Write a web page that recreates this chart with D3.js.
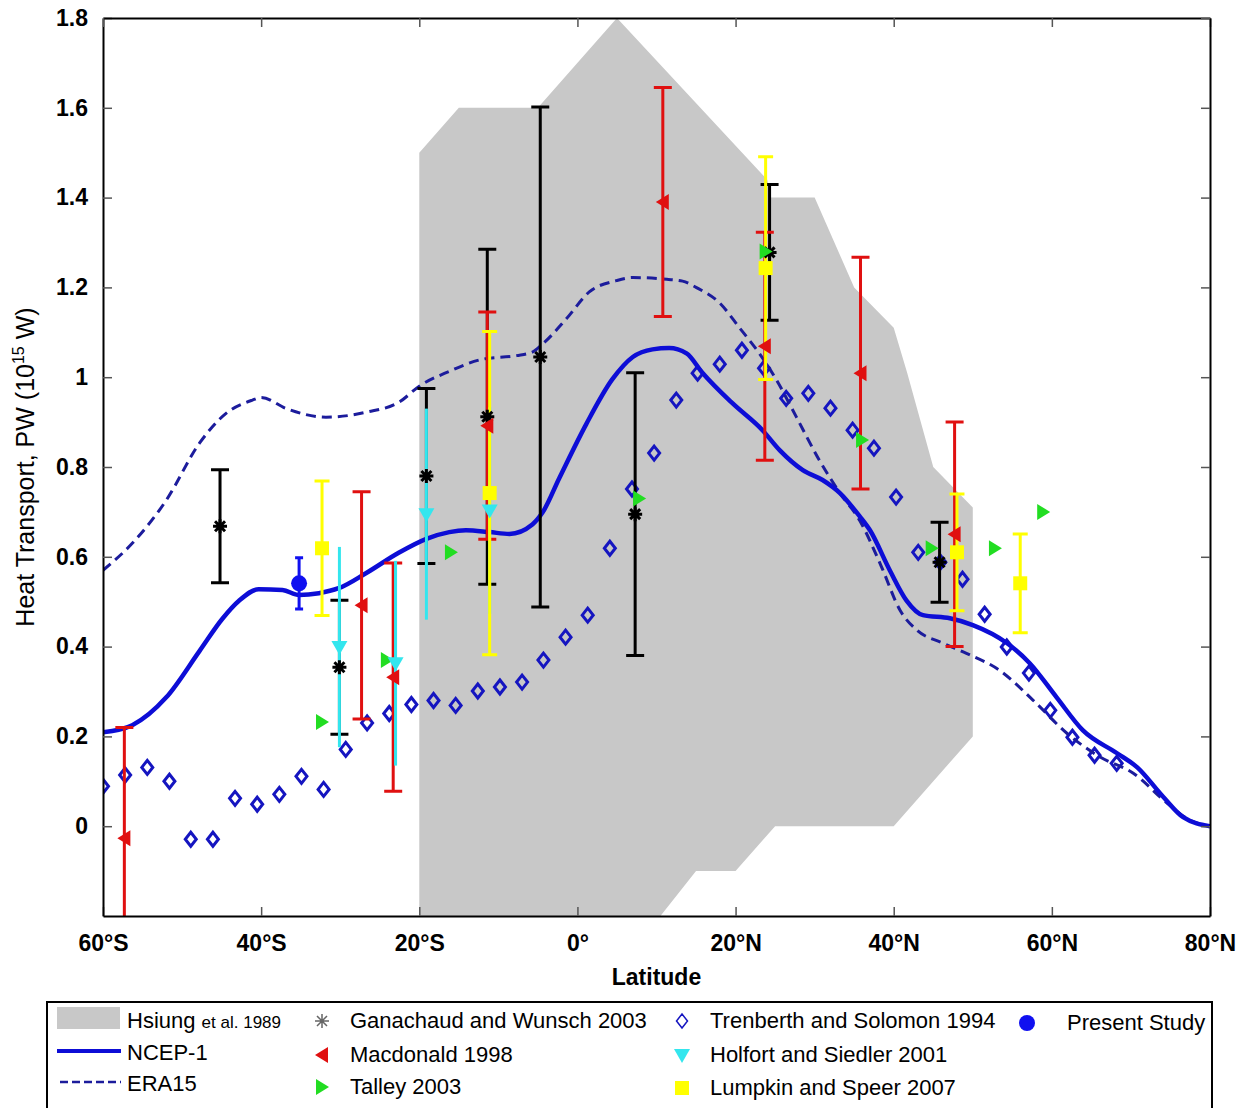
<!DOCTYPE html>
<html>
<head>
<meta charset="utf-8">
<script src="https://cdn.jsdelivr.net/npm/d3@7"></script>
<style>
  body { margin: 0; background: #fff; }
  svg { display: block; font-family: "Liberation Sans", Arial, sans-serif; }
</style>
</head>
<body>
<div class="chart"></div>
<script>
// ---- data ----
var xTicks = [-60, -40, -20, 0, 20, 40, 60, 80];
var xTickLabels = ['60°S', '40°S', '20°S', '0°', '20°N', '40°N', '60°N', '80°N'];
var yTicks = [0, 0.2, 0.4, 0.6, 0.8, 1, 1.2, 1.4, 1.6, 1.8];
var yTickLabels = ['0', '0.2', '0.4', '0.6', '0.8', '1', '1.2', '1.4', '1.6', '1.8'];

// Hsiung et al. 1989 envelope (lat, PW)
var hsiungLat = [-20, -20, -15, -5, 5, 24, 24.5, 30, 35, 40, 41.7, 45, 50, 50, 40, 25, 20, 15, 10.5];
var hsiungPW  = [-0.2, 1.5, 1.6, 1.6, 1.8, 1.44, 1.4, 1.4, 1.2, 1.11, 1.01, 0.8, 0.71, 0.2, 0, 0, -0.1, -0.1, -0.2];

var ncepLat = [-60, -56.3, -52, -47.8, -44.9, -42.8, -40.3, -37.3, -35.2, -32.7, -30.2, -26.7, -22.5, -19.1, -16.2,
  -14.1, -11.1, -8.6, -5.7, -4.4, -2.3, 1.1, 4.4, 7.0, 9.5, 11.6, 13.8, 15.8, 19.6, 23.4, 25.6, 28.5, 31.0, 33.2,
  35.7, 37.0, 39.5, 41.6, 43.7, 47.1, 50, 54.3, 57.2, 60.6, 63.9, 68.2, 70.8, 74.1, 76.6, 80];
var ncepPW = [0.209, 0.225, 0.287, 0.39, 0.462, 0.502, 0.528, 0.526, 0.515, 0.519, 0.530, 0.564, 0.61, 0.64, 0.655,
  0.659, 0.655, 0.651, 0.672, 0.699, 0.775, 0.895, 0.995, 1.045, 1.062, 1.065, 1.053, 1.01, 0.942, 0.882, 0.837, 0.793,
  0.771, 0.742, 0.69, 0.659, 0.57, 0.503, 0.47, 0.463, 0.448, 0.408, 0.363, 0.287, 0.214, 0.163, 0.131, 0.065, 0.02, 0.0];

var eraLat = [-60, -56.3, -52, -47.8, -44.4, -41.1, -40, -36.8, -31.8, -26.7, -22.5, -20, -16.2, -12.0, -7.7, -5.7,
  -4.4, -1.4, 1.5, 4.9, 7.0, 11.3, 13.3, 15.0, 18.0, 20.5, 23.0, 25.2, 27.7, 30.6, 33.2, 35.7, 38.4, 40.8, 42.9, 46.2,
  49.2, 53.4, 57.6, 61.9, 66.1, 70.3, 74.6, 77.5, 80];
var eraPW = [0.57, 0.63, 0.726, 0.853, 0.92, 0.949, 0.955, 0.93, 0.911, 0.922, 0.945, 0.98, 1.013, 1.04, 1.048, 1.056,
  1.074, 1.13, 1.19, 1.215, 1.222, 1.218, 1.214, 1.2, 1.165, 1.11, 1.053, 0.993, 0.911, 0.815, 0.742, 0.681, 0.58,
  0.481, 0.437, 0.408, 0.385, 0.347, 0.281, 0.207, 0.154, 0.118, 0.051, 0.013, 0.0];

// Trenberth and Solomon 1994
var tsLat = [-60, -57.2, -54.4, -51.6, -48.9, -46.1, -43.3, -40.5, -37.7, -34.9, -32.1, -29.3, -26.6, -23.8, -21.0,
  -18.2, -15.4, -12.6, -9.8, -7.0, -4.3, -1.5, 1.3, 4.1, 6.9, 9.7, 12.5, 15.2, 18.0, 20.8, 23.6, 26.4, 29.2, 32.0,
  34.8, 37.5, 40.3, 43.1, 45.9, 48.7, 51.5, 54.3, 57.1, 59.8, 62.6, 65.4, 68.2];
var tsPW = [0.089, 0.114, 0.131, 0.100, -0.029, -0.029, 0.062, 0.049, 0.071, 0.111, 0.082, 0.171, 0.230, 0.251, 0.271,
  0.280, 0.269, 0.301, 0.310, 0.321, 0.370, 0.421, 0.470, 0.619, 0.751, 0.831, 0.949, 1.009, 1.029, 1.060, 1.02, 0.953,
  0.964, 0.931, 0.882, 0.842, 0.733, 0.610, 0.588, 0.550, 0.472, 0.399, 0.341, 0.258, 0.198, 0.158, 0.140];

// Ganachaud and Wunsch 2003
var gwLat = [-45.2, -30.1, -19.1, -11.4, -4.7, 7.3, 24.3, 45.8];
var gwPW  = [0.668, 0.354, 0.78, 0.912, 1.045, 0.695, 1.278, 0.588];
var gwErr = [0.126, 0.149, 0.195, 0.373, 0.557, 0.315, 0.151, 0.089];

// Macdonald 1998
var macLat = [-57.3, -27.3, -23.3, -11.4, 10.8, 23.7, 35.8, 47.7];
var macPW  = [-0.027, 0.492, 0.332, 0.892, 1.39, 1.069, 1.009, 0.65];
var macErr = [0.247, 0.253, 0.254, 0.253, 0.255, 0.254, 0.258, 0.25];

// Talley 2003
var talLat = [-32.3, -24.1, -16.0, 7.8, 23.8, 36.0, 44.8, 52.8, 58.9];
var talPW  = [0.232, 0.37, 0.61, 0.73, 1.28, 0.86, 0.619, 0.619, 0.70];

// Holfort and Siedler 2001
var hsLat = [-30.1, -23.0, -19.1, -11.1];
var hsPW  = [0.399, 0.363, 0.695, 0.703];
var hsErr = [0.223, 0.228, 0.235, 0.23];

// Lumpkin and Speer 2007
var lsLat = [-32.3, -11.1, 23.8, 48.0, 56.0];
var lsPW  = [0.619, 0.742, 1.243, 0.61, 0.541];
var lsErr = [0.15, 0.36, 0.248, 0.13, 0.11];

// Present study
var psLat = [-35.2];
var psPW  = [0.541];
var psErr = [0.057];

var chart = {
  width: 1251,
  height: 1108,
  plot: {left: 103, right: 1210, top: 18, bottom: 916},
  colors: {
    gray: '#c8c8c8', ncep: '#0d0dd6', era: '#1c1c9c', ts: '#1515c0',
    gw: '#000000', mac: '#e01010', tal: '#22dd22', hs: '#33e6ee', ls: '#ffff00', ps: '#1010f0'
  }
};

function zip(lat, pw, err) {
  return lat.map(function(d, i) { return {lat: d, pw: pw[i], err: err ? err[i] : 0}; });
}

var svg = d3.select('.chart').append('svg')
  .attr('width', chart.width)
  .attr('height', chart.height);

var x = d3.scaleLinear().domain([-60, 80]).range([chart.plot.left, chart.plot.right]);
var y = d3.scaleLinear().domain([-0.2, 1.8]).range([chart.plot.bottom, chart.plot.top]);

svg.append('clipPath').attr('id', 'plotClip')
  .append('rect')
  .attr('x', chart.plot.left).attr('y', chart.plot.top)
  .attr('width', chart.plot.right - chart.plot.left)
  .attr('height', chart.plot.bottom - chart.plot.top);

var plot = svg.append('g').attr('clip-path', 'url(#plotClip)');

// shaded envelope
plot.append('path')
  .datum(zip(hsiungLat, hsiungPW))
  .attr('d', d3.line().x(function(d) { return x(d.lat); }).y(function(d) { return y(d.pw); }))
  .attr('fill', chart.colors.gray)
  .attr('stroke', 'none');

// marker shapes
var shapes = {
  triLeft: 'M-7,0L6,-8L6,8Z',
  triRight: 'M7,0L-6,-8L-6,8Z',
  triDown: 'M-8,-6L8,-6L0,8Z',
  square: 'M-7,-7L7,-7L7,7L-7,7Z',
  diamond: 'M0,-7L5.5,0L0,7L-5.5,0Z',
  asterisk: 'M-7,0L7,0M0,-7L0,7M-5,-5L5,5M-5,5L5,-5'
};

// diamonds (Trenberth & Solomon)
plot.append('g').selectAll('path')
  .data(zip(tsLat, tsPW))
  .join('path')
  .attr('transform', function(d) { return 'translate(' + x(d.lat) + ',' + y(d.pw) + ')'; })
  .attr('d', shapes.diamond)
  .attr('fill', 'none')
  .attr('stroke', chart.colors.ts)
  .attr('stroke-width', 3);

var line = d3.line()
  .x(function(d) { return x(d.lat); })
  .y(function(d) { return y(d.pw); })
  .curve(d3.curveMonotoneX);

plot.append('path')
  .datum(zip(eraLat, eraPW))
  .attr('d', line)
  .attr('fill', 'none')
  .attr('stroke', chart.colors.era)
  .attr('stroke-width', 3)
  .attr('stroke-dasharray', '10,6');

plot.append('path')
  .datum(zip(ncepLat, ncepPW))
  .attr('d', line)
  .attr('fill', 'none')
  .attr('stroke', chart.colors.ncep)
  .attr('stroke-width', 4.5);

function errorBars(data, color, capW) {
  var g = plot.append('g').attr('stroke', color).attr('stroke-width', 3).attr('fill', 'none');
  g.selectAll('path')
    .data(data)
    .join('path')
    .attr('d', function(d) {
      var cx = x(d.lat), top = y(d.pw + d.err), bot = y(d.pw - d.err);
      var s = 'M' + cx + ',' + top + 'L' + cx + ',' + bot;
      if (capW) {
        s += 'M' + (cx - capW / 2) + ',' + top + 'L' + (cx + capW / 2) + ',' + top;
        s += 'M' + (cx - capW / 2) + ',' + bot + 'L' + (cx + capW / 2) + ',' + bot;
      }
      return s;
    });
}

function markers(data, shape, color, stroked) {
  plot.append('g').selectAll('path')
    .data(data)
    .join('path')
    .attr('transform', function(d) { return 'translate(' + x(d.lat) + ',' + y(d.pw) + ')'; })
    .attr('d', shape)
    .attr('fill', stroked ? 'none' : color)
    .attr('stroke', stroked ? color : 'none')
    .attr('stroke-width', stroked ? 3 : 0);
}

var gw = zip(gwLat, gwPW, gwErr);
var mac = zip(macLat, macPW, macErr);
var hs = zip(hsLat, hsPW, hsErr);
var ls = zip(lsLat, lsPW, lsErr);
var ps = zip(psLat, psPW, psErr);

errorBars(gw, chart.colors.gw, 18);
errorBars(mac, chart.colors.mac, 18);
errorBars(hs, chart.colors.hs, 0);
errorBars(ls, chart.colors.ls, 15);
errorBars(ps, chart.colors.ps, 8);

markers(gw, shapes.asterisk, chart.colors.gw, true);
markers(mac, shapes.triLeft, chart.colors.mac);
markers(zip(talLat, talPW), shapes.triRight, chart.colors.tal);
markers(ls, shapes.square, chart.colors.ls);
markers(hs, shapes.triDown, chart.colors.hs);
plot.append('g').selectAll('circle')
  .data(ps)
  .join('circle')
  .attr('cx', function(d) { return x(d.lat); })
  .attr('cy', function(d) { return y(d.pw); })
  .attr('r', 8)
  .attr('fill', chart.colors.ps);

// axes with inward ticks on all four sides
svg.append('g')
  .attr('transform', 'translate(0,' + chart.plot.bottom + ')')
  .call(d3.axisBottom(x).tickValues(xTicks).tickSizeInner(-9).tickSizeOuter(0).tickPadding(19)
    .tickFormat(function(d, i) { return xTickLabels[i]; }));
svg.append('g')
  .attr('transform', 'translate(' + chart.plot.left + ',0)')
  .call(d3.axisLeft(y).tickValues(yTicks).tickSizeInner(-9).tickSizeOuter(0).tickPadding(15)
    .tickFormat(function(d, i) { return yTickLabels[i]; }));
svg.append('g')
  .attr('transform', 'translate(0,' + chart.plot.top + ')')
  .call(d3.axisTop(x).tickValues(xTicks).tickSizeInner(-9).tickSizeOuter(0).tickFormat(''));
svg.append('g')
  .attr('transform', 'translate(' + chart.plot.right + ',0)')
  .call(d3.axisRight(y).tickValues(yTicks).tickSizeInner(-9).tickSizeOuter(0).tickFormat(''));

svg.selectAll('.domain').attr('stroke', '#000').attr('stroke-width', 2);
svg.selectAll('.tick line').attr('stroke', '#555').attr('stroke-width', 1.5);
svg.selectAll('.tick text')
  .attr('fill', '#000')
  .style('font-family', '"Liberation Sans", Arial, sans-serif')
  .style('font-size', '23px')
  .style('font-weight', 'bold');

svg.append('text')
  .attr('x', (chart.plot.left + chart.plot.right) / 2)
  .attr('y', 985)
  .attr('text-anchor', 'middle')
  .style('font-size', '23px')
  .style('font-weight', 'bold')
  .text('Latitude');

var yLabel = svg.append('text')
  .attr('transform', 'translate(34,' + ((chart.plot.top + chart.plot.bottom) / 2) + ') rotate(-90)')
  .attr('text-anchor', 'middle')
  .style('font-size', '25px');
yLabel.append('tspan').text('Heat Transport, PW (10');
yLabel.append('tspan').attr('dy', -10).style('font-size', '16px').text('15');
yLabel.append('tspan').attr('dy', 10).text(' W)');

// legend
var legend = svg.append('g').style('font-size', '22px');
legend.append('rect')
  .attr('x', 47).attr('y', 1002).attr('width', 1165).attr('height', 120)
  .attr('fill', '#fff').attr('stroke', '#000').attr('stroke-width', 2);

legend.append('rect').attr('x', 57).attr('y', 1007).attr('width', 63).attr('height', 22).attr('fill', chart.colors.gray);
var hsiungText = legend.append('text').attr('x', 127).attr('y', 1028);
hsiungText.append('tspan').text('Hsiung ');
hsiungText.append('tspan').style('font-size', '17px').text('et al. 1989');

legend.append('line').attr('x1', 57).attr('x2', 121).attr('y1', 1051).attr('y2', 1051)
  .attr('stroke', chart.colors.ncep).attr('stroke-width', 4);
legend.append('text').attr('x', 127).attr('y', 1060).text('NCEP-1');

legend.append('line').attr('x1', 60).attr('x2', 121).attr('y1', 1082).attr('y2', 1082)
  .attr('stroke', chart.colors.era).attr('stroke-width', 2.5).attr('stroke-dasharray', '8,4');
legend.append('text').attr('x', 127).attr('y', 1091).text('ERA15');

var legendItems = [
  {x: 322, y: 1021, shape: shapes.asterisk, color: '#666', stroked: true, label: 'Ganachaud and Wunsch 2003'},
  {x: 322, y: 1055, shape: shapes.triLeft, color: chart.colors.mac, label: 'Macdonald 1998'},
  {x: 322, y: 1087, shape: shapes.triRight, color: chart.colors.tal, label: 'Talley 2003'},
  {x: 682, y: 1021, shape: shapes.diamond, color: chart.colors.ts, stroked: true, label: 'Trenberth and Solomon 1994'},
  {x: 682, y: 1055, shape: shapes.triDown, color: chart.colors.hs, label: 'Holfort and Siedler 2001'},
  {x: 682, y: 1088, shape: shapes.square, color: chart.colors.ls, label: 'Lumpkin and Speer 2007'},
  {x: 1027, y: 1023, shape: null, color: chart.colors.ps, label: 'Present Study'}
];
legendItems.forEach(function(item) {
  if (item.shape) {
    legend.append('path')
      .attr('transform', 'translate(' + item.x + ',' + item.y + ')')
      .attr('d', item.shape)
      .attr('fill', item.stroked ? 'none' : item.color)
      .attr('stroke', item.stroked ? item.color : 'none')
      .attr('stroke-width', item.stroked ? 1.5 : 0);
  } else {
    legend.append('circle').attr('cx', item.x).attr('cy', item.y).attr('r', 8).attr('fill', item.color);
  }
  legend.append('text')
    .attr('x', item.x + (item.shape ? 28 : 40))
    .attr('y', item.y + 7)
    .text(item.label);
});
</script>
</body>
</html>
